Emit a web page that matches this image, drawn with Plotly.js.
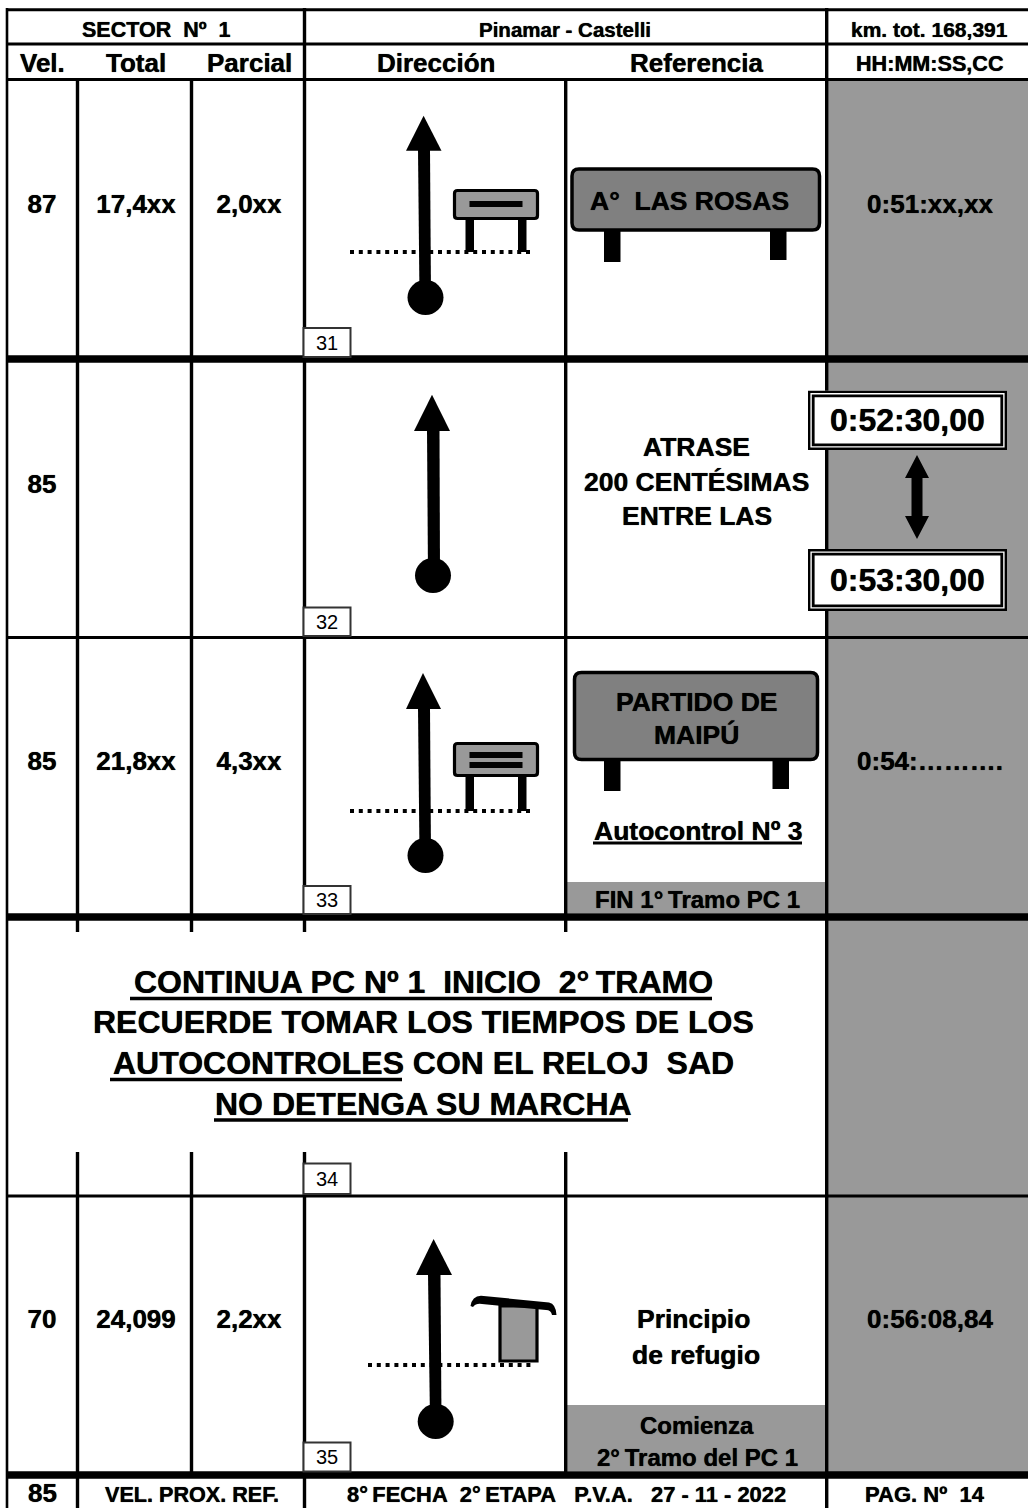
<!DOCTYPE html>
<html><head><meta charset="utf-8">
<script src="https://cdn.plot.ly/plotly-3.0.1.min.js"></script>
<style>html,body{margin:0;padding:0;background:#fff}#c{width:1028px;height:1508px}</style>
</head><body><div id="c"></div>
<script>
// ---- values
const velocities = ['87','85','85','70'];
const totals = ['17,4xx','','21,8xx','24,099'];
const partials = ['2,0xx','','4,3xx','2,2xx'];
const times = ['0:51:xx,xx','','0:54:……….','0:56:08,84'];
const nextSpeed = '85';
const boxNumbers = ['31','32','33','34','35'];
const headerTop = ['SECTOR\u00A0 Nº\u00A0 1','Pinamar - Castelli','km. tot. 168,391'];
const headerCols = ['Vel.','Total','Parcial','Dirección','Referencia','HH:MM:SS,CC'];
const footer = ['VEL. PROX. REF.','8°\u2009FECHA\u00A0 2°\u2009ETAPA\u00A0\u00A0 P.V.A.\u00A0\u00A0 27 - 11 - 2022','PAG. Nº\u00A0 14'];
const signTexts = ['A°\u00A0 LAS ROSAS','PARTIDO DE','MAIPÚ'];
const delayTexts = ['ATRASE','200 CENTÉSIMAS','ENTRE LAS'];
const delayTimes = ['0:52:30,00','0:53:30,00'];
const notes = ['Autocontrol Nº 3','FIN 1°\u2009Tramo PC 1','Principio','de refugio','Comienza','2°\u2009Tramo del PC 1'];
const bigLines = ['CONTINUA PC Nº 1\u00A0 INICIO\u00A0 2°\u2009TRAMO','RECUERDE TOMAR LOS TIEMPOS DE LOS','AUTOCONTROLES CON EL RELOJ\u00A0 SAD','NO DETENGA SU MARCHA'];

// ---- sheet geometry (axis units = sheet pixels)
const colX = [77.5,191.5,304.5,565.7,826.7];
const rowMid = [206,486,763,1321];
const FONT = 'Liberation Sans';
const HEAVY = '0 0 0.7px #000';
const BLACK = '#000', GREY = '#999999', SIGN = '#808080';
const shapes = [], ann = [];

function rect(x0,y0,x1,y1,fill,layer,lw,lc){
  shapes.push({type:'rect',xref:'x',yref:'y',x0,y0,x1,y1,fillcolor:fill,layer:layer||'above',
    line:{width:lw||0,color:lc||BLACK}});
}
function path(d,fill,lw,lc){
  shapes.push({type:'path',xref:'x',yref:'y',path:d,fillcolor:fill||'rgba(0,0,0,0)',layer:'above',
    line:{width:lw||0,color:lc||BLACK}});
}
function rrect(x0,y0,x1,y1,r,fill,lw){
  path(`M${x0+r},${y0} L${x1-r},${y0} Q${x1},${y0} ${x1},${y0+r} L${x1},${y1-r} Q${x1},${y1} ${x1-r},${y1} L${x0+r},${y1} Q${x0},${y1} ${x0},${y1-r} L${x0},${y0+r} Q${x0},${y0} ${x0+r},${y0} Z`,fill,lw);
}
function vline(x,y0,y1,w){rect(x-(w||3.4)/2,y0,x+(w||3.4)/2,y1,BLACK);}
function hline(y,x0,x1,w){rect(x0,y-(w||3)/2,x1,y+(w||3)/2,BLACK);}
function txt(s,x,y,size,bold){
  ann.push({text:s,x,y,xref:'x',yref:'y',xanchor:'center',yanchor:'middle',showarrow:false,
    font:{family:FONT,size,color:BLACK,weight:bold===false?400:700,shadow:bold===false?'none':HEAVY}});
}
function arrow(ax,ay,by,hl,hr,tl,tr,bl,br,cx,cy){
  path(`M${tl},${by-1} L${tr},${by-1} L${br},${cy} L${bl},${cy} Z`,BLACK);
  path(`M${ax},${ay} L${hr},${by} L${hl},${by} Z`,BLACK);
  shapes.push({type:'circle',xref:'x',yref:'y',x0:cx-18,x1:cx+18,y0:cy-17.5,y1:cy+17.5,fillcolor:BLACK,layer:'above',line:{width:0}});
}
function dotted(y,x0,x1){
  shapes.push({type:'line',xref:'x',yref:'y',x0,x1,y0:y,y1:y,layer:'above',line:{width:4,color:BLACK,dash:'4px,4.8px'}});
}
function smallSign(y0,y1,bars,dotY){
  rect(465.5,y1,474,dotY,BLACK); rect(518,y1,526.5,dotY,BLACK);
  rrect(454.5,y0+1.5,537.5,y1-1.5,3,GREY,3.2);
  bars.forEach(b=>rect(469.5,b,522.5,b+6,BLACK));
}
function numBox(y0,y1,s){
  rect(303.5,y0,350.5,y1,'#fff','above',2,'#333');
  txt(s,327,(y0+y1)/2,20,false);
}
function bigSign(y0,y1,x0,x1,p1,p2,pb1,pb2){
  rect(p1,y1,p1+16.5,pb1,BLACK); rect(p2,y1,p2+16.5,pb2,BLACK);
  rrect(x0,y0,x1,y1,7,SIGN,3.5);
}
function dblBox(y0,y1,s){
  rect(808,y0,1007,y1,'#fff','above');
  rect(809.2,y0+1.2,1005.8,y1-1.2,'rgba(0,0,0,0)','above',2.4);
  rect(813.2,y0+5.2,1001.8,y1-5.2,'#fff','above',2.8);
  txt(s,907,(y0+y1)/2,32);
}

// grey areas
rect(826.7,80,1028,1474,GREY,'below');
rect(567,882,825,913,GREY,'below');
rect(567,1405,825,1471,GREY,'below');

// grid
hline(9.7,6,1028); hline(44,6,1028); hline(79.5,6,1028);
hline(359,6,1028,7.5); hline(637.5,6,1028); hline(917,6,1028,7.5);
hline(1196,6,1028); hline(1475,6,1028,7.5);
vline(7,8,1508,2.6);
[colX[2],colX[4]].forEach(x=>vline(x,8,80));
colX.forEach(x=>vline(x,79,917));
colX.slice(0,4).forEach(x=>{vline(x,917,932); vline(x,1152,1475);});
vline(colX[4],917,1475);
[colX[0],colX[2],colX[4]].forEach(x=>vline(x,1475,1508));

// direction arrows and small signs
dotted(252,350,531);
arrow(423.6,115.7,150.7,406,441.5,418,430,419.5,431,425.5,297.5);
smallSign(189,220,[201],252);
arrow(432,394.7,431,414,450,427,439.5,428,440,433,575.5);
dotted(811,350,531);
arrow(423,673,709,406,441,418,430,419.5,431,425.5,855.5);
smallSign(742,777,[752,762],811);
dotted(1365,368,534);
arrow(433.6,1239,1275,416,452,428,440.5,430,441.5,435.7,1421.5);
// shelter
rect(500,1306,537,1361,GREY,'above',3.2);
path('M470.5,1306 Q472,1296 481,1295.7 L549,1302.5 Q556,1304 556.5,1315 L552,1315 Q551,1310 546,1310 L482,1304 Q476,1303 473,1307 Z',BLACK);

numBox(328,357,boxNumbers[0]);
numBox(607.5,636,boxNumbers[1]);
numBox(886,914,boxNumbers[2]);
numBox(1163.5,1194,boxNumbers[3]);
numBox(1442.5,1471.5,boxNumbers[4]);

// reference signs
bigSign(169,230,572,819.5,604,770,262,260);
txt(signTexts[0],689,201,26.5);
bigSign(672.5,759.5,574.5,817.5,604,772.5,791,789);
txt(signTexts[1],696,702,26.5);
txt(signTexts[2],696,735,26.5);

// delay block
delayTexts.forEach((s,i)=>txt(s,696.7,[447,482,516][i],26.5));
dblBox(390.7,450,delayTimes[0]);
dblBox(549,611,delayTimes[1]);
path('M917,455 L929,478 L922.5,478 L922.5,516 L929,516 L917,539 L905,516 L911.5,516 L911.5,478 L905,478 Z',BLACK);

// notes
txt(notes[0],697.5,831,26.5);
hline(843,593,802,3);
txt(notes[1],697,899,24);
txt(notes[2],693,1319,26.5);
txt(notes[3],696,1355,26.5);
txt(notes[4],697,1425,24);
txt(notes[5],697,1457,24);

// central notice
const bigY=[982,1022,1063,1104];
bigLines.forEach((s,i)=>txt(s,423,bigY[i],32));
hline(998.5,130,712,3.5); hline(1079.5,110,402,3.5); hline(1120,214,628,3.5);

// headers
const topX=[156,565,929];
headerTop.forEach((s,i)=>txt(s,topX[i],29.5,i==0?21.5:i==1?20.5:21));
const colCenters=[42,136,249,436,696,930];
headerCols.forEach((s,i)=>txt(s,colCenters[i],63,i==5?21.6:26));

// footer
txt(nextSpeed,42,1493,26);
txt(footer[0],192,1494,21.6);
txt(footer[1],566,1494,21.9);
txt(footer[2],925,1494,22);

// row values as a text trace
const rowIdx=[0,1,2,3];
const traces=[
  {x:rowIdx.map(()=>colCenters[0]),y:rowMid,text:velocities},
  {x:rowIdx.map(()=>colCenters[1]),y:rowMid,text:totals},
  {x:rowIdx.map(()=>colCenters[2]),y:rowMid,text:partials},
  {x:rowIdx.map(()=>930),y:rowMid,text:times}
].map(t=>Object.assign(t,{type:'scatter',mode:'text',textposition:'middle center',cliponaxis:false,hoverinfo:'skip',
  textfont:{family:FONT,size:26,color:BLACK,weight:700,shadow:HEAVY},showlegend:false}));

const ax={visible:false,fixedrange:true,showgrid:false,zeroline:false};
Plotly.newPlot('c',traces,{
  width:1028,height:1508,margin:{l:0,r:0,t:0,b:0,pad:0},showlegend:false,
  paper_bgcolor:'#fff',plot_bgcolor:'#fff',
  xaxis:Object.assign({range:[0,1028]},ax),
  yaxis:Object.assign({range:[1508,0]},ax),
  shapes,annotations:ann
},{staticPlot:true,displayModeBar:false});
</script>
</body></html>
